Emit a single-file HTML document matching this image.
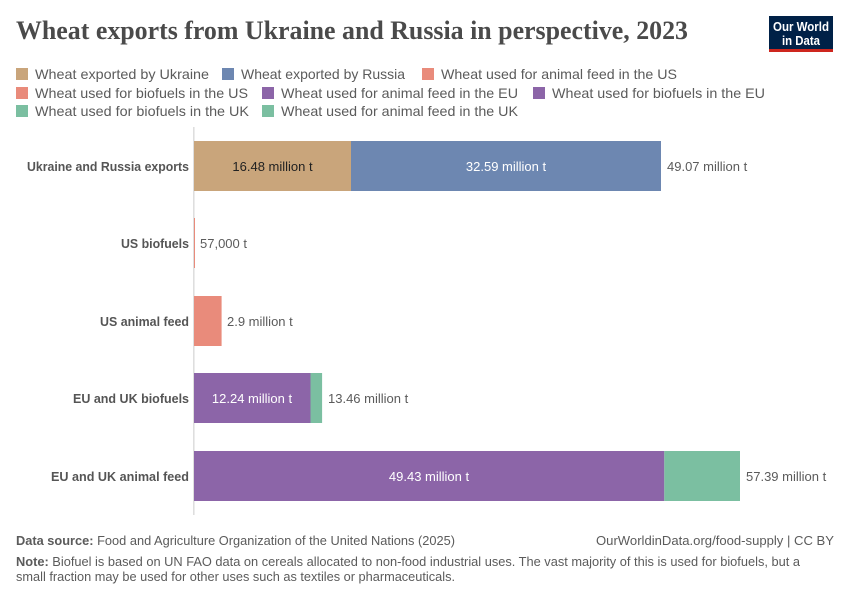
<!DOCTYPE html>
<html>
<head>
<meta charset="utf-8">
<style>
  html, body { margin: 0; padding: 0; background: #fff; }
  svg { display: block; }
  text { font-family: "Liberation Sans", "DejaVu Sans", sans-serif; }
  text.serif { font-family: "Liberation Serif", "DejaVu Serif", serif; }
</style>
</head>
<body>
<svg width="850" height="600" viewBox="0 0 850 600" xmlns="http://www.w3.org/2000/svg">
  <rect width="850" height="600" fill="#ffffff"/>

  <!-- Title -->
  <text class="serif" x="16" y="39" style="font-family:'Liberation Serif',serif;" font-size="26" font-weight="bold" fill="#4a4a4a" textLength="672" lengthAdjust="spacingAndGlyphs">Wheat exports from Ukraine and Russia in perspective, 2023</text>

  <!-- Logo -->
  <rect x="769" y="16" width="64" height="36" fill="#002147"/>
  <rect x="769" y="49" width="64" height="3" fill="#ce261e"/>
  <text x="801" y="31" font-size="12.5" font-weight="bold" fill="#ffffff" text-anchor="middle" textLength="56" lengthAdjust="spacingAndGlyphs">Our World</text>
  <text x="801" y="45" font-size="12.5" font-weight="bold" fill="#ffffff" text-anchor="middle" textLength="38" lengthAdjust="spacingAndGlyphs">in Data</text>

  <!-- Legend -->
  <g font-size="14" fill="#5b5b5b">
    <rect x="16" y="68" width="12" height="12" fill="#c9a57b"/>
    <text x="35" y="79" textLength="174" lengthAdjust="spacingAndGlyphs">Wheat exported by Ukraine</text>
    <rect x="222" y="68" width="12" height="12" fill="#6d87b1"/>
    <text x="241" y="79" textLength="164" lengthAdjust="spacingAndGlyphs">Wheat exported by Russia</text>
    <rect x="422" y="68" width="12" height="12" fill="#e98b7b"/>
    <text x="441" y="79" textLength="236" lengthAdjust="spacingAndGlyphs">Wheat used for animal feed in the US</text>

    <rect x="16" y="87" width="12" height="12" fill="#e98b7b"/>
    <text x="35" y="98" textLength="213" lengthAdjust="spacingAndGlyphs">Wheat used for biofuels in the US</text>
    <rect x="262" y="87" width="12" height="12" fill="#8c65a8"/>
    <text x="281" y="98" textLength="237" lengthAdjust="spacingAndGlyphs">Wheat used for animal feed in the EU</text>
    <rect x="533" y="87" width="12" height="12" fill="#8c65a8"/>
    <text x="552" y="98" textLength="213" lengthAdjust="spacingAndGlyphs">Wheat used for biofuels in the EU</text>

    <rect x="16" y="105" width="12" height="12" fill="#7bbfa1"/>
    <text x="35" y="116" textLength="214" lengthAdjust="spacingAndGlyphs">Wheat used for biofuels in the UK</text>
    <rect x="262" y="105" width="12" height="12" fill="#7bbfa1"/>
    <text x="281" y="116" textLength="237" lengthAdjust="spacingAndGlyphs">Wheat used for animal feed in the UK</text>
  </g>

  <!-- Axis line -->
  <line x1="193.8" y1="127" x2="193.8" y2="515" stroke="#dddddd" stroke-width="1.5"/>

  <!-- Bars -->
  <rect x="194" y="141" width="157" height="50" fill="#c9a57b"/>
  <rect x="351" y="141" width="310" height="50" fill="#6d87b1"/>
  <rect x="194" y="218" width="1" height="50" fill="#e98b7b"/>
  <rect x="194" y="296" width="27.6" height="50" fill="#e98b7b"/>
  <rect x="194" y="373" width="116.5" height="50" fill="#8c65a8"/>
  <rect x="310.5" y="373" width="11.6" height="50" fill="#7bbfa1"/>
  <rect x="194" y="451" width="470.3" height="50" fill="#8c65a8"/>
  <rect x="664.3" y="451" width="75.7" height="50" fill="#7bbfa1"/>

  <!-- Row labels -->
  <g font-size="13" font-weight="bold" fill="#555555" text-anchor="end">
    <text x="189" y="171" textLength="162" lengthAdjust="spacingAndGlyphs">Ukraine and Russia exports</text>
    <text x="189" y="248" textLength="68" lengthAdjust="spacingAndGlyphs">US biofuels</text>
    <text x="189" y="326" textLength="89" lengthAdjust="spacingAndGlyphs">US animal feed</text>
    <text x="189" y="403" textLength="116" lengthAdjust="spacingAndGlyphs">EU and UK biofuels</text>
    <text x="189" y="481" textLength="138" lengthAdjust="spacingAndGlyphs">EU and UK animal feed</text>
  </g>

  <!-- Inside labels -->
  <g font-size="13" text-anchor="middle">
    <text x="272.5" y="171" fill="#222222">16.48 million t</text>
    <text x="506" y="171" fill="#ffffff">32.59 million t</text>
    <text x="252" y="403" fill="#ffffff">12.24 million t</text>
    <text x="429" y="481" fill="#ffffff">49.43 million t</text>
  </g>

  <!-- Total labels -->
  <g font-size="13" fill="#5b5b5b">
    <text x="667" y="171">49.07 million t</text>
    <text x="200" y="248">57,000 t</text>
    <text x="227" y="326">2.9 million t</text>
    <text x="328" y="403">13.46 million t</text>
    <text x="746" y="481">57.39 million t</text>
  </g>

  <!-- Footer -->
  <g font-size="12.5" fill="#5b5b5b">
    <text x="16" y="545" textLength="439" lengthAdjust="spacingAndGlyphs"><tspan font-weight="bold">Data source:</tspan> Food and Agriculture Organization of the United Nations (2025)</text>
    <text x="834" y="545" text-anchor="end" textLength="238" lengthAdjust="spacingAndGlyphs">OurWorldinData.org/food-supply | CC BY</text>
    <text x="16" y="566" textLength="784" lengthAdjust="spacingAndGlyphs"><tspan font-weight="bold">Note:</tspan> Biofuel is based on UN FAO data on cereals allocated to non-food industrial uses. The vast majority of this is used for biofuels, but a</text>
    <text x="16" y="581" textLength="439" lengthAdjust="spacingAndGlyphs">small fraction may be used for other uses such as textiles or pharmaceuticals.</text>
  </g>
</svg>
</body>
</html>
